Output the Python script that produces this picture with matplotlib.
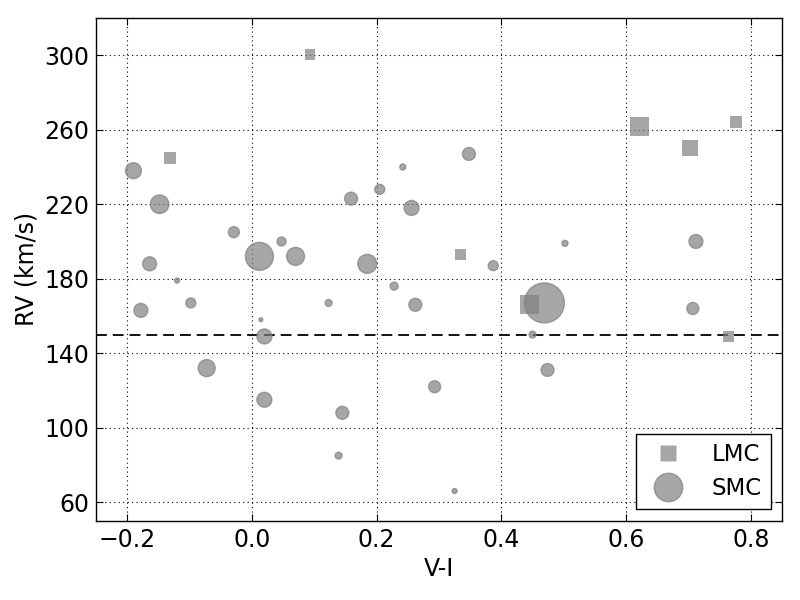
import matplotlib
matplotlib.use("Agg")
import matplotlib.pyplot as plt
from matplotlib.lines import Line2D

# LMC stars: colour index, radial velocity, marker area
lmc_vi = [0.093, -0.131, 0.621, 0.777, 0.702, 0.335, 0.445, 0.764]
lmc_rv = [300.5, 245, 262, 264, 250, 193, 166, 149]
lmc_s = [59, 75, 187, 75, 133, 59, 187, 59]

# SMC stars
smc_vi = [-0.190, -0.148, 0.242, 0.205, 0.159, 0.256, -0.029, 0.0475, 0.012,
          0.070, -0.164, 0.185, 0.348, 0.502, 0.712, 0.387, -0.120, -0.178,
          -0.098, 0.123, 0.228, 0.262, 0.0144, 0.020, -0.0725, 0.020, 0.145,
          0.293, 0.139, 0.469, 0.707, 0.450, 0.474, 0.325]
smc_rv = [238, 220, 240, 228, 223, 218, 205, 200, 192,
          192, 188, 188, 247, 199, 200, 187, 179, 163,
          167, 167, 176, 166, 158, 149, 132, 115, 108,
          122, 85, 167, 164, 150, 131, 66]
smc_s = [132, 179, 19, 52, 87, 116, 63, 42, 406,
         168, 101, 187, 87, 19, 101, 52, 13, 101,
         52, 25, 33, 87, 8, 116, 150, 116, 87,
         75, 25, 828, 75, 25, 87, 13]

rv_ref = 150

fig = plt.figure(figsize=(8, 6), dpi=100)
ax = fig.add_axes([0.12, 0.132, 0.8575, 0.838])

ax.scatter(lmc_vi, lmc_rv, s=lmc_s, marker="s", color="gray", alpha=0.7,
           edgecolors="none", zorder=3)
ax.scatter(smc_vi, smc_rv, s=smc_s, marker="o", color="gray", alpha=0.7,
           edgecolors="gray", linewidths=1, zorder=3)
ax.axhline(rv_ref, color="black", linestyle="--", dashes=(6, 3.3),
           linewidth=1.3, zorder=2)

ax.set_xlim(-0.25, 0.85)
ax.set_ylim(50, 320)
ax.set_xticks([-0.2, 0.0, 0.2, 0.4, 0.6, 0.8])
ax.set_yticks([60, 100, 140, 180, 220, 260, 300])
ax.grid(True, color="black", linestyle=(0, (1, 3)), linewidth=0.8)
ax.set_axisbelow(True)
ax.tick_params(direction="in", top=True, right=True, labelsize=17, length=5,
               pad=5)
for sp in ax.spines.values():
    sp.set_linewidth(1.0)

ax.set_xlabel("V-I", fontsize=17)
ax.set_ylabel("RV (km/s)", fontsize=17)

handles = [
    Line2D([], [], linestyle="none", marker="s", markersize=11.5,
           color="gray", alpha=0.7, markeredgecolor="none", label="LMC"),
    Line2D([], [], linestyle="none", marker="o", markersize=20.5,
           color="gray", alpha=0.7, markeredgecolor="gray", label="SMC"),
]
leg = ax.legend(handles=handles, loc="lower right", fontsize=16.5,
                fancybox=False, framealpha=1, edgecolor="black",
                handletextpad=0.9, borderaxespad=0.5, labelspacing=0.5,
                borderpad=0.4)
leg.get_frame().set_linewidth(1.0)

fig.savefig("out.png", dpi=100)
